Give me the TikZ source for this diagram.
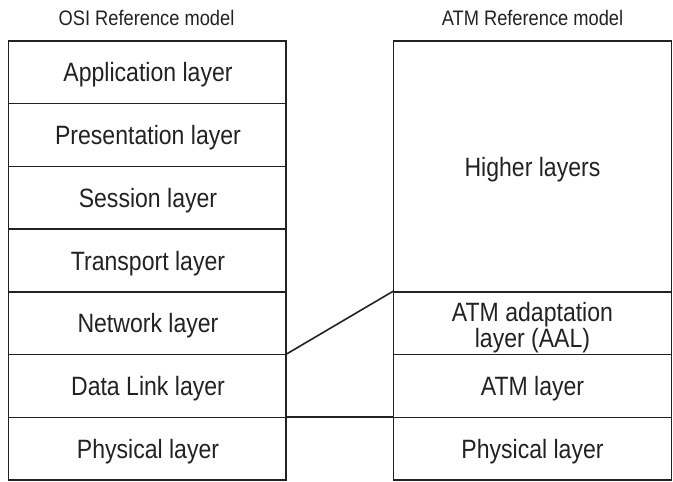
\documentclass[tikz,border=0pt]{standalone}
\usepackage{fontspec}
\setmainfont[FakeStretch=0.87]{Liberation Sans}
\definecolor{ink}{HTML}{222222}
\begin{document}
\begin{tikzpicture}[x=1pt,y=-1pt,
  layer/.style={draw=ink,line width=1.3pt,rectangle,inner sep=0pt,minimum width=277.5pt,minimum height=62.7pt},
  lbl/.style={anchor=base,text=ink,font=\fontsize{26.5}{30}\selectfont,inner sep=0pt},
  ttl/.style={anchor=base,text=ink,font=\fontsize{21}{24}\selectfont,inner sep=0pt},
  conn/.style={draw=ink,line width=1.6pt}]
\useasboundingbox (0,0) rectangle (673,482);
% OSI column
\node[layer] (app) at (147.25,72.35) {};
\node[layer] (pre) at (147.25,135.05) {};
\node[layer] (ses) at (147.25,197.75) {};
\node[layer] (tra) at (147.25,260.5) {};
\node[layer] (net) at (147.25,323.25) {};
\node[layer] (dl)  at (147.25,385.95) {};
\node[layer] (phl) at (147.25,448.65) {};
% ATM column
\node[layer,minimum height=250.9pt] (hig) at (532.5,166.45) {};
\node[layer] (aal) at (532.5,323.25) {};
\node[layer] (atm) at (532.5,385.95) {};
\node[layer] (phr) at (532.5,448.65) {};
% titles
\node[ttl] (t1) at (146.5,25.7) {OSI Reference model};
\node[ttl] (t2) at (532.5,25.7) {ATM Reference model};
% labels
\node[lbl] at (148,81.8) {Application layer};
\node[lbl] at (148,144.5) {Presentation layer};
\node[lbl] at (148,207.2) {Session layer};
\node[lbl] at (148,270) {Transport layer};
\node[lbl] at (148,332.7) {Network layer};
\node[lbl] at (148,395.4) {Data Link layer};
\node[lbl] at (148,458.1) {Physical layer};
\node[lbl] at (532.5,176.5) {Higher layers};
\node[lbl] at (532.5,321.7) {ATM adaptation};
\node[lbl] at (532.5,347.3) {layer (AAL)};
\node[lbl] at (532.5,395.4) {ATM layer};
\node[lbl] at (532.5,458.1) {Physical layer};
% connectors
\draw[conn] (dl.north east) -- (aal.north west);
\draw[conn,line width=2pt] (phl.north east) -- (phr.north west);
\end{tikzpicture}
\end{document}
